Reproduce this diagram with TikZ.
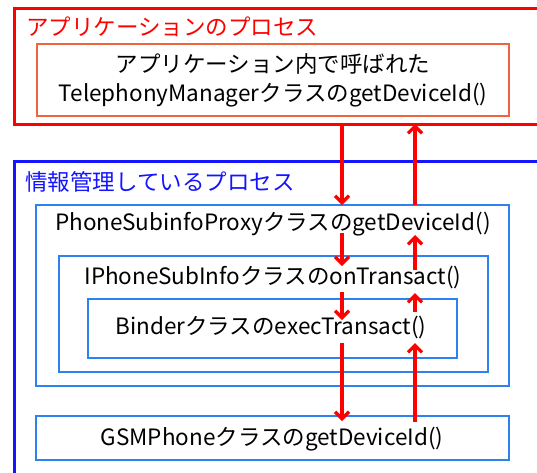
\documentclass[tikz,border=0pt]{standalone}
\usepackage{fontspec}
\setmainfont{Noto Sans CJK JP}
\usetikzlibrary{arrows.meta}
\definecolor{rd}{RGB}{255,0,0}
\definecolor{org}{RGB}{240,100,60}
\definecolor{bl}{RGB}{20,20,255}
\definecolor{lb}{RGB}{45,130,240}
\tikzset{
  box/.style={draw, anchor=north west, inner sep=0pt, outer sep=0pt},
  txt/.style={inner sep=0pt, font=\fontsize{22.5}{29}\selectfont, text=black},
  ttl/.style={txt, anchor=west},
  arr/.style={draw=rd, line width=3.2pt, -{Straight Barb[length=7pt,width=14pt]}}
}
\begin{document}
\begin{tikzpicture}[x=1pt,y=-1pt]
\useasboundingbox (0,0) rectangle (537,472);
\clip (0,0) rectangle (537,472);
% application process
\node[box, draw=rd, line width=3pt, minimum width=560pt, minimum height=116pt] (app) at (14,8) {};
\node[ttl, text=rd] (apptitle) at (26,27) {アプリケーションのプロセス};
\node[box, draw=org, line width=2.1pt, minimum width=472pt, minimum height=72pt] (tm) at (37,44) {};
\node[txt, align=center] (tmtext) at (273,80) {アプリケーション内で呼ばれた\\TelephonyManagerクラスのgetDeviceId()};
% information management process
\node[box, draw=bl, line width=3pt, minimum width=560pt, minimum height=360pt] (info) at (14,161) {};
\node[ttl, text=bl] (infotitle) at (25,182) {情報管理しているプロセス};
\node[box, draw=lb, line width=2.1pt, minimum width=473pt, minimum height=181pt] (proxy) at (36,205) {};
\node[txt] (proxytext) at (273,224) {PhoneSubinfoProxyクラスのgetDeviceId()};
\node[box, draw=lb, line width=2.1pt, minimum width=429pt, minimum height=116pt] (isub) at (59,256) {};
\node[txt] (isubtext) at (273,277) {IPhoneSubInfoクラスのonTransact()};
\node[box, draw=lb, line width=2.1pt, minimum width=369pt, minimum height=59pt] (binder) at (88,299) {};
\node[txt] (bindertext) at (271,327) {BinderクラスのexecTransact()};
\node[box, draw=lb, line width=2.1pt, minimum width=473pt, minimum height=44pt] (gsm) at (36,416) {};
\node[txt] (gsmtext) at (272,439) {GSMPhoneクラスのgetDeviceId()};
% arrow end points
\coordinate (d0) at (342,124); \coordinate (d1) at (342,205);
\coordinate (d2) at (342,233); \coordinate (d3) at (342,266);
\coordinate (d4) at (342,292); \coordinate (d5) at (342,320);
\coordinate (d6) at (342,343); \coordinate (d7) at (342,421);
\coordinate (u0) at (415,205); \coordinate (u1) at (415,124);
\coordinate (u2) at (415,270); \coordinate (u3) at (415,235);
\coordinate (u4) at (415,312); \coordinate (u5) at (415,293);
\coordinate (u6) at (415,422); \coordinate (u7) at (415,343);
\draw[arr] (d0) -- (d1);
\draw[arr] (d2) -- (d3);
\draw[arr] (d4) -- (d5);
\draw[arr] (d6) -- (d7);
\draw[arr] (u0) -- (u1);
\draw[arr] (u2) -- (u3);
\draw[arr] (u4) -- (u5);
\draw[arr] (u6) -- (u7);
\end{tikzpicture}
\end{document}
